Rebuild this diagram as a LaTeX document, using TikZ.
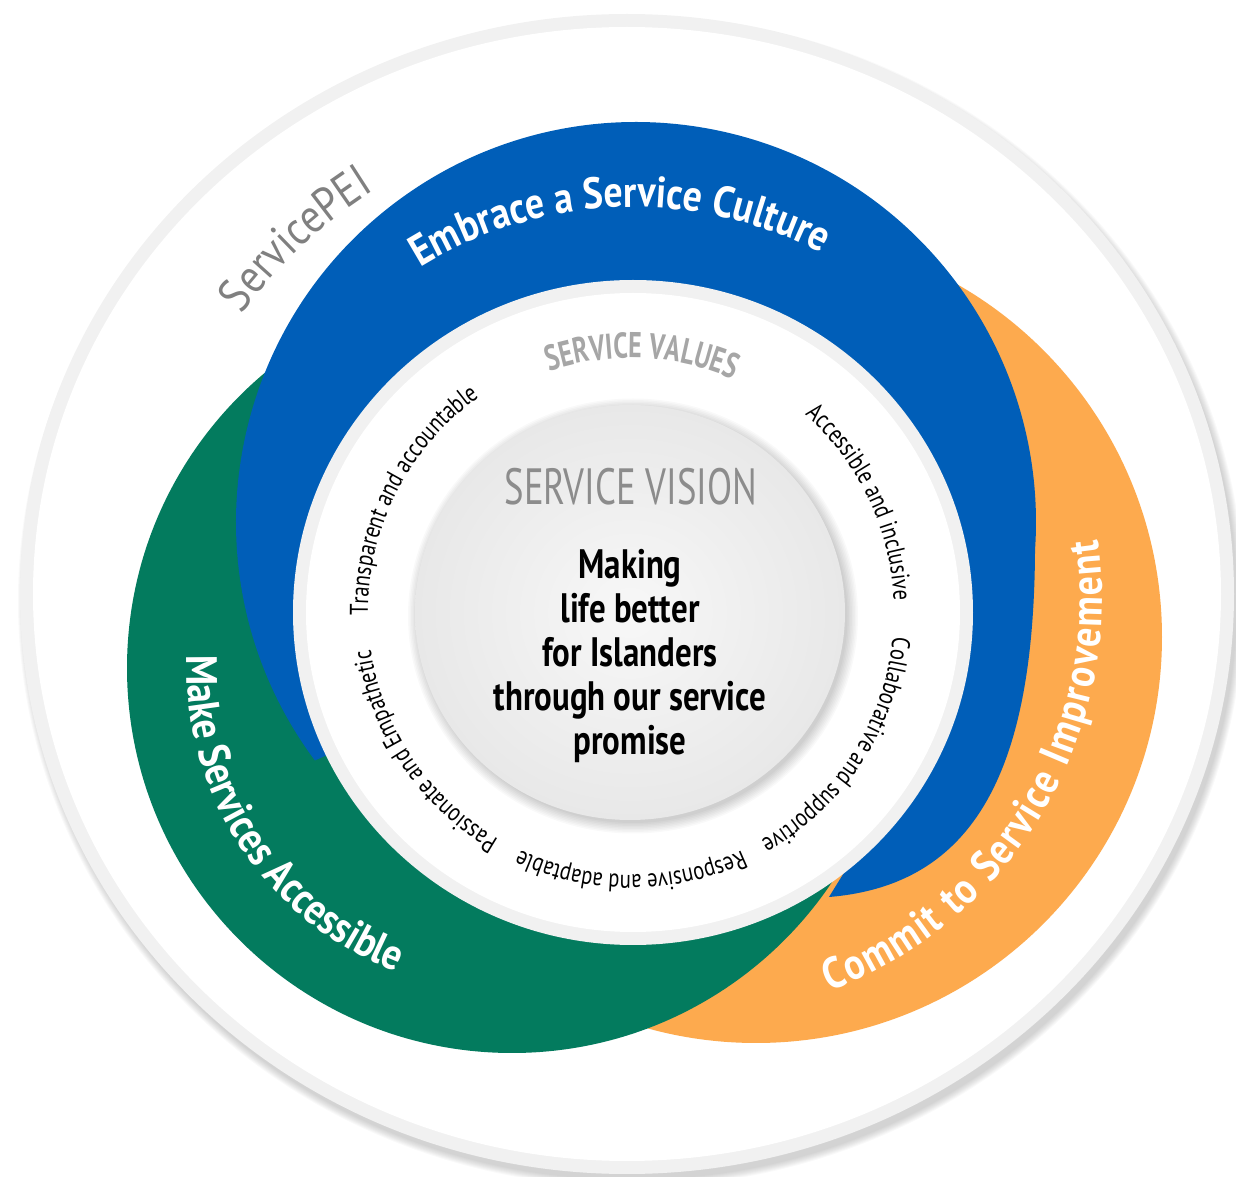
\documentclass[tikz,border=0pt]{standalone}
\usepackage{fontspec}
\usetikzlibrary{decorations.text}
\newfontfamily\bandfont[FakeStretch=0.86]{PT Sans}
\newfontfamily\valuefont[FakeStretch=0.8]{PT Sans}
\newfontfamily\headfont[FakeStretch=0.72]{PT Sans}
\definecolor{peiblue}{RGB}{0,94,184}
\definecolor{peigreen}{RGB}{3,123,94}
\definecolor{peiorange}{RGB}{253,170,78}
\definecolor{peiring}{RGB}{241,241,241}
\definecolor{peigrey}{RGB}{128,128,128}
\definecolor{peivision}{RGB}{140,140,140}
\definecolor{peivalues}{RGB}{166,166,166}
\newcommand\bandfmt{\bandfont\bfseries\fontsize{12.5pt}{15pt}\selectfont\color{white}}
\newcommand\valuefmt{\valuefont\fontsize{7.3pt}{9pt}\selectfont\color{black}}
\newcommand\peifmt{\bandfont\fontsize{13.5pt}{15pt}\selectfont\color{peigrey}}
\newcommand\headfmt{\headfont\bfseries\fontsize{10.2pt}{12pt}\selectfont\color{peivalues}}
\tikzset{curvetext/.style={decorate, decoration={text along path, text align=center, text={#1}}}}
\tikzset{fittext/.style={decorate, decoration={text along path, text align=fit to path, text={#1}}}}
\tikzset{softshadow/.style={fill=black, opacity=0.025}}

\begin{document}
\begin{tikzpicture}[x=0.1mm, y=0.1mm]%{{{
        \useasboundingbox (0,0) rectangle (1236,-1177);

        % outer disc
        \foreach \k in {1,...,8}
            \fill[softshadow] (631,-601) ellipse [x radius=605+\k, y radius=578+\k];
        \fill[peiring] (627,-594) ellipse [x radius=607, y radius=580];
        \fill[white] (627,-594) ellipse [x radius=594, y radius=567];

        % the three bands
        \fill[peiorange] (756,-637) circle [radius=406];
        \fill[peigreen] (512,-668) circle [radius=385];
        \fill[peiblue] (636,-522) ++(216.6:400) arc[start angle=216.6, end angle=-4, radius=400]
            .. controls (1034,-770) and (975,-885) .. (829,-897)
            -- (850,-863) -- (633,-612) -- (334,-752) -- cycle;

        % inner discs
        \fill[peiring] (633,-612.5) ellipse [x radius=340, y radius=332.5];
        \fill[white] (633,-612.5) ellipse [x radius=327, y radius=319.5];
        \foreach \k in {1,...,8}
            \fill[softshadow] (633,-616) ellipse [x radius=213+1.5*\k, y radius=205.5+1.5*\k];
        \shade[inner color=white!97!black, outer color=white!91!black] (630,-612.5) ellipse [x radius=215, y radius=207.5];

        % band labels
        \path[curvetext={|\peifmt|ServicePEI}] (627,-594) ++(160:476) arc[start angle=160, end angle=106, radius=476];
        \path[curvetext={|\bandfmt|Embrace a Service Culture}] (633,-612) ++(135:405) arc[start angle=135, end angle=49, radius=405];
        \path[curvetext={|\bandfmt|Make Services Accessible}] (512,-668) ++(165:325) arc[start angle=165, end angle=262, radius=325];
        \path[fittext={|\bandfmt|Commit to Service Improvement}] (682,-598) ++(-69.5:420) arc[start angle=-69.5, end angle=8, radius=420];

        % service values
        \path[curvetext={|\headfmt|SERVICE VALUES}] (631,-612) ++(125:254) arc[start angle=125, end angle=50, radius=254];
        \path[curvetext={|\valuefmt|Transparent and accountable}] (631,-612) ++(190:263) arc[start angle=190, end angle=116, radius=263];
        \path[curvetext={|\valuefmt|Accessible and inclusive}] (631,-612) ++(62:263) arc[start angle=62, end angle=-11, radius=263];
        \path[curvetext={|\valuefmt|Collaborative and supportive}] (631,-612) ++(4:263) arc[start angle=4, end angle=-70, radius=263];
        \path[curvetext={|\valuefmt|Responsive and adaptable}] (631,-612) ++(-53:263) arc[start angle=-53, end angle=-127, radius=263];
        \path[curvetext={|\valuefmt|Passionate and Empathetic}] (631,-612) ++(-109:263) arc[start angle=-109, end angle=-183, radius=263];

        % service vision
        \node[font=\headfont\fontsize{14.5pt}{16pt}\selectfont, text=peivision, inner sep=0pt] (vision) at (631,-487) {SERVICE VISION};
        \node[font=\valuefont\bfseries\fontsize{11.7pt}{12.5pt}\selectfont, align=center, inner sep=0pt] (promise) at (630,-656)
        {Making\\life better\\for Islanders\\through our service\\promise};
    \end{tikzpicture}
\end{document}
